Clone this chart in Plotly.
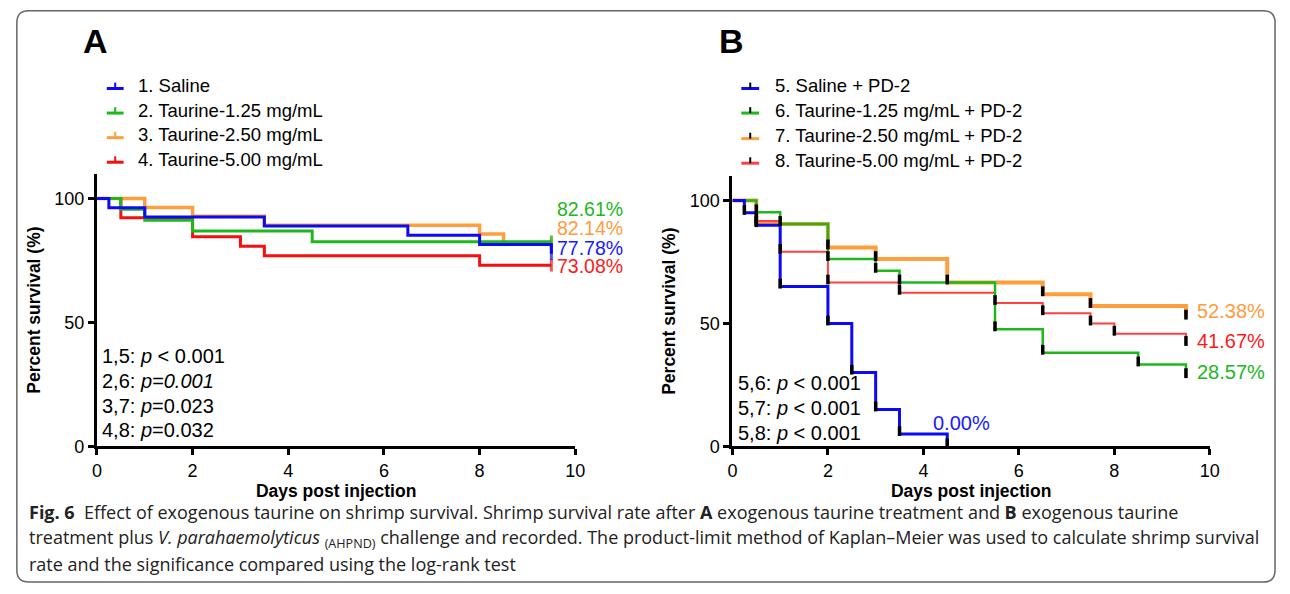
import plotly.graph_objects as go

W, H = 1290, 594

# ---------------- data ----------------
days_ticks = [0, 2, 4, 6, 8, 10]
pct_ticks = [0, 50, 100]

# Panel A
a_names = ["1. Saline", "2. Taurine-1.25 mg/mL", "3. Taurine-2.50 mg/mL", "4. Taurine-5.00 mg/mL"]
a1_t = [0, 0.25, 1, 3.5, 6.5, 8, 9.5]
a1_s = [100, 96.30, 92.59, 88.89, 85.19, 81.48, 77.78]
a2_t = [0, 0.5, 1, 2, 4.5, 9.5]
a2_s = [100, 95.65, 91.30, 86.96, 82.61, 82.61]
a3_t = [0, 1, 2, 3.5, 8, 8.5, 9.5]
a3_s = [100, 96.43, 92.86, 89.29, 85.71, 82.14, 82.14]
a4_t = [0, 0.5, 2, 3, 3.5, 8, 9.5]
a4_s = [100, 92.31, 84.62, 80.77, 76.92, 73.08, 73.08]
a_end_labels = ["77.78%", "82.61%", "82.14%", "73.08%"]
a_pvals = ["1,5: <i>p</i> < 0.001", "2,6: <i>p=0.001</i>", "3,7: <i>p</i>=0.023", "4,8: <i>p</i>=0.032"]

# Panel B
b_names = ["5. Saline + PD-2", "6. Taurine-1.25 mg/mL + PD-2", "7. Taurine-2.50 mg/mL + PD-2", "8. Taurine-5.00 mg/mL + PD-2"]
b5_t = [0, 0.25, 0.5, 1, 2, 2.5, 3, 3.5, 4.5]
b5_s = [100, 95, 90, 65, 50, 30, 15, 5, 0]
b6_t = [0, 0.5, 1, 2, 3, 3.5, 5.5, 6.5, 8.5, 9.5]
b6_s = [100, 95.24, 90.48, 76.19, 71.43, 66.67, 47.62, 38.10, 33.33, 28.57]
b7_t = [0, 0.5, 2, 3, 4.5, 6.5, 7.5, 9.5]
b7_s = [100, 90.48, 80.95, 76.19, 66.67, 61.90, 57.14, 52.38]
b8_t = [0, 0.5, 1, 2, 3.5, 5.5, 6.5, 7.5, 8, 9.5]
b8_s = [100, 91.67, 79.17, 66.67, 62.50, 58.33, 54.17, 50.00, 45.83, 41.67]
b_end_labels = ["0.00%", "28.57%", "52.38%", "41.67%"]
b_pvals = ["5,6: <i>p</i> < 0.001", "5,7: <i>p</i> < 0.001", "5,8: <i>p</i> < 0.001"]

caption_lines = [
    "<b>Fig. 6</b>  Effect of exogenous taurine on shrimp survival. Shrimp survival rate after <b>A</b> exogenous taurine treatment and <b>B</b> exogenous taurine",
    "treatment plus <i>V. parahaemolyticus</i> <sub>(AHPND)</sub> challenge and recorded. The product-limit method of Kaplan–Meier was used to calculate shrimp survival",
    "rate and the significance compared using the log-rank test",
]

# ---------------- styles ----------------
A_COL = ["#0A0AF5", "#1DB81D", "#FF9E3D", "#F51010"]
A_TXT = ["#1818FF", "#20B820", "#FF9B3C", "#FF1A1A"]
B_COL = ["#0A0AF5", "#1DB81D", "#FF9E3D", "#FF4040"]
B_TXT = ["#1818FF", "#20B820", "#FF9B3C", "#FF1A1A"]
A_W = [3, 3, 3.5, 3]
B_W = [3, 2.5, 4, 2]
FONT = "Liberation Sans, Arial, sans-serif"


def px_x(p):
    return p / W


def px_y(p):
    return 1 - p / H


fig = go.Figure()

# Panel A traces (draw order: orange, red, green, blue)
a_series = [(a1_t, a1_s), (a2_t, a2_s), (a3_t, a3_s), (a4_t, a4_s)]
for i in [2, 3, 1, 0]:
    t, s = a_series[i]
    sizes = [0] * (len(t) - 1) + [9]
    fig.add_trace(go.Scatter(
        x=t, y=s, mode="lines+markers", line=dict(shape="hv", color=A_COL[i], width=A_W[i]),
        marker=dict(symbol="line-ns", size=sizes, line=dict(color=A_COL[i], width=3)),
        xaxis="x", yaxis="y", showlegend=False, hoverinfo="skip", cliponaxis=False))

# Panel B traces
b_series = [(b5_t, b5_s), (b6_t, b6_s), (b7_t, b7_s), (b8_t, b8_s)]
for i in [3, 2, 1, 0]:
    t, s = b_series[i]
    fig.add_trace(go.Scatter(
        x=t, y=s, mode="lines", line=dict(shape="hv", color=B_COL[i], width=B_W[i]),
        xaxis="x2", yaxis="y2", showlegend=False, hoverinfo="skip", cliponaxis=False))
# black censor/event ticks
for i in [3, 2, 1, 0]:
    t, s = b_series[i]
    fig.add_trace(go.Scatter(
        x=t[1:], y=[v + 1.2 for v in s[1:]], mode="markers",
        marker=dict(symbol="line-ns", size=7, line=dict(color="black", width=3.5)),
        xaxis="x2", yaxis="y2", showlegend=False, hoverinfo="skip", cliponaxis=False))

axis_common = dict(
    showline=True, linecolor="black", linewidth=3, ticks="outside", ticklen=6, tickwidth=2.5,
    tickcolor="black", showgrid=False, zeroline=False, tickfont=dict(family=FONT, size=18, color="black"),
    mirror=False,
)
fig.update_layout(
    width=W, height=H, margin=dict(l=0, r=0, t=0, b=0),
    paper_bgcolor="white", plot_bgcolor="white",
    xaxis=dict(domain=[93 / W, 577 / W], range=[0, 10], tickvals=days_ticks, anchor="y",
               title=dict(text="<b>Days post injection</b>", font=dict(family=FONT, size=17.5, color="black"), standoff=2),
               **axis_common),
    yaxis=dict(domain=[(H - 454) / H, (H - 176.8) / H], range=[0, 110], tickvals=pct_ticks, anchor="x",
               title=dict(text="<b>Percent survival (%)</b>", font=dict(family=FONT, size=17.5, color="black"), standoff=10),
               **axis_common),
    xaxis2=dict(domain=[736 / W, 1219 / W], range=[0, 10], tickvals=days_ticks, anchor="y2",
                title=dict(text="<b>Days post injection</b>", font=dict(family=FONT, size=17.5, color="black"), standoff=2),
                **axis_common),
    yaxis2=dict(domain=[(H - 454) / H, (H - 179) / H], range=[0, 110], tickvals=pct_ticks, anchor="x2",
                title=dict(text="<b>Percent survival (%)</b>", font=dict(family=FONT, size=17.5, color="black"), standoff=10),
                **axis_common),
)

ann = []
shapes = []

# panel letters
ann.append(dict(text="<b>A</b>", x=px_x(92), y=px_y(42), xref="paper", yref="paper", showarrow=False,
                font=dict(family=FONT, size=34, color="black"), xanchor="center", yanchor="middle"))
ann.append(dict(text="<b>B</b>", x=px_x(735), y=px_y(42), xref="paper", yref="paper", showarrow=False,
                font=dict(family=FONT, size=34, color="black"), xanchor="center", yanchor="middle"))

# legends (manual)
legA_y = [87, 112, 137, 162]
legB_y = [87, 112, 138, 163]
for i, name in enumerate(a_names):
    y = legA_y[i]
    shapes.append(dict(type="line", xref="paper", yref="paper", x0=px_x(103), x1=px_x(120), y0=px_y(y + 3), y1=px_y(y + 3),
                       line=dict(color=A_COL[i], width=3)))
    shapes.append(dict(type="line", xref="paper", yref="paper", x0=px_x(111.5), x1=px_x(111.5), y0=px_y(y + 3), y1=px_y(y - 3),
                       line=dict(color=A_COL[i], width=2)))
    ann.append(dict(text=name, x=px_x(133), y=px_y(y), xref="paper", yref="paper", showarrow=False,
                    font=dict(family=FONT, size=18.5, color="black"), xanchor="left", yanchor="middle"))
for i, name in enumerate(b_names):
    y = legB_y[i]
    shapes.append(dict(type="line", xref="paper", yref="paper", x0=px_x(745), x1=px_x(763), y0=px_y(y + 3), y1=px_y(y + 3),
                       line=dict(color=B_COL[i], width=3)))
    shapes.append(dict(type="line", xref="paper", yref="paper", x0=px_x(754), x1=px_x(754), y0=px_y(y + 3), y1=px_y(y - 3),
                       line=dict(color="black", width=2)))
    ann.append(dict(text=name, x=px_x(777), y=px_y(y), xref="paper", yref="paper", showarrow=False,
                    font=dict(family=FONT, size=18.5, color="black"), xanchor="left", yanchor="middle"))

# end labels
a_lab_y = [80.2, 96.0, 88.1, 72.6]
for i, lab in enumerate(a_end_labels):
    ann.append(dict(text=lab, x=9.58, y=a_lab_y[i], xref="x", yref="y", showarrow=False,
                    font=dict(family=FONT, size=19.5, color=A_TXT[i]), xanchor="left", yanchor="middle"))
b_lab_pos = [(4.15, 9.6), (9.68, 30.3), (9.68, 54.9), (9.68, 42.9)]
for i, lab in enumerate(b_end_labels):
    ann.append(dict(text=lab, x=b_lab_pos[i][0], y=b_lab_pos[i][1], xref="x2", yref="y2", showarrow=False,
                    font=dict(family=FONT, size=20, color=B_TXT[i]), xanchor="left", yanchor="middle"))

# p-values
for k, txt in enumerate(a_pvals):
    ann.append(dict(text=txt, x=px_x(96), y=px_y(362.5 + 25 * k), xref="paper", yref="paper", showarrow=False,
                    font=dict(family=FONT, size=20, color="black"), xanchor="left", yanchor="middle"))
for k, txt in enumerate(b_pvals):
    ann.append(dict(text=txt, x=px_x(740), y=px_y(390 + 25 * k), xref="paper", yref="paper", showarrow=False,
                    font=dict(family=FONT, size=20, color="black"), xanchor="left", yanchor="middle"))

# caption
cap_y = [521, 548, 574]
for k, line in enumerate(caption_lines):
    ann.append(dict(text=line, x=px_x(22), y=px_y(cap_y[k]), xref="paper", yref="paper", showarrow=False,
                    font=dict(family="Open Sans, sans-serif", size=18, color="#222222"), xanchor="left", yanchor="middle"))

# rounded border box
x0, y0, x1, y1, r = 12, 11, 1285, 592, 12
path = (f"M {x0 + r} {y0} L {x1 - r} {y0} Q {x1} {y0} {x1} {y0 + r} L {x1} {y1 - r} Q {x1} {y1} {x1 - r} {y1} "
        f"L {x0 + r} {y1} Q {x0} {y1} {x0} {y1 - r} L {x0} {y0 + r} Q {x0} {y0} {x0 + r} {y0} Z")


def conv_path(p):
    toks = p.split()
    out = []
    nums = []
    for tk in toks:
        if tk.isalpha():
            out.append(tk)
        else:
            nums.append(float(tk))
            if len(nums) == 2:
                out.append(f"{px_x(nums[0]):.5f},{px_y(nums[1]):.5f}")
                nums = []
    return " ".join(out)


shapes.append(dict(type="path", xref="paper", yref="paper", path=conv_path(path),
                   line=dict(color="#666666", width=1.5)))

fig.update_layout(annotations=ann, shapes=shapes)
fig.write_html("out.html", config={"displayModeBar": False},
               post_script="document.body.style.margin='0';document.body.style.overflow='hidden';"
                           "document.documentElement.style.overflow='hidden';")
